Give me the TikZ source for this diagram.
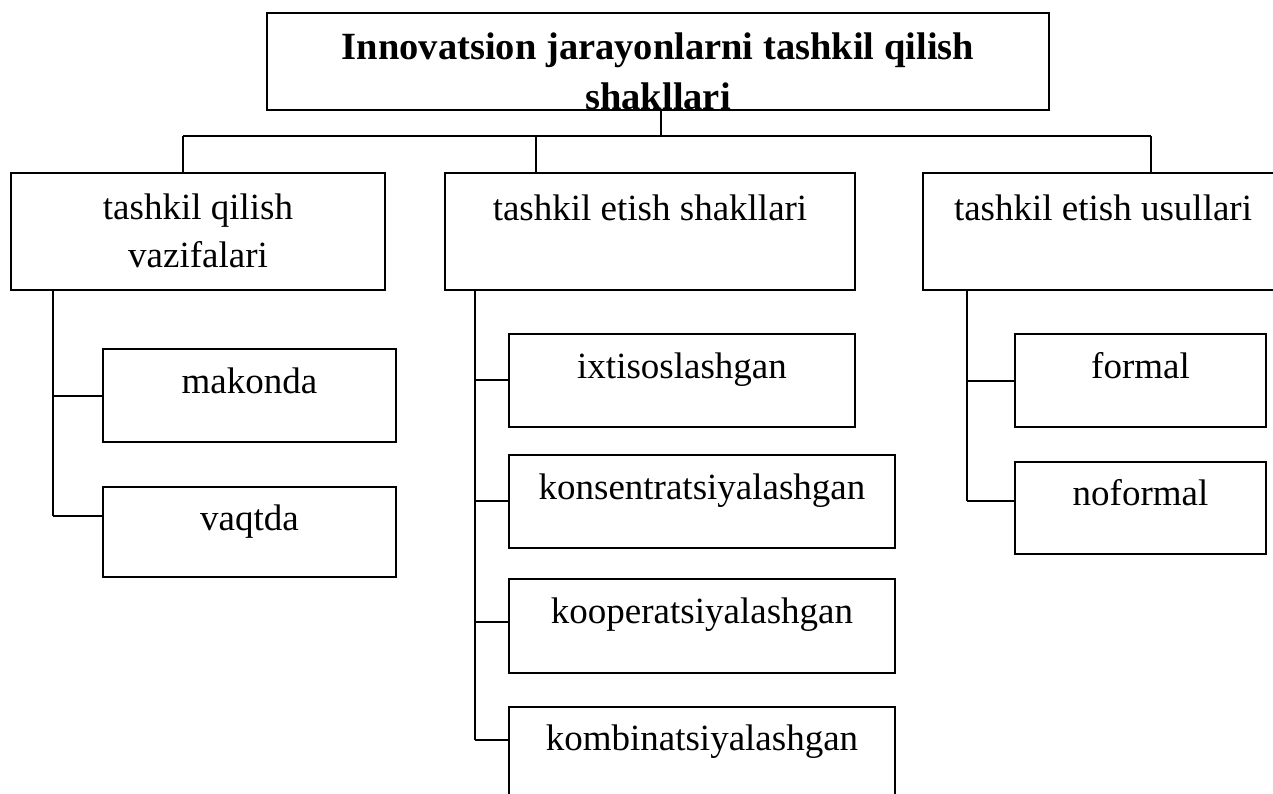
\documentclass[tikz,border=0pt]{standalone}
\usepackage{fontspec}
\setmainfont{Liberation Serif}

\begin{document}
\begin{tikzpicture}[x=1pt, y=-1pt, line width=1.3pt]

\tikzstyle{box} = [
	draw,
	anchor = north west,
	inner sep = 0pt,
	outer sep = 0pt
]
\tikzstyle{txt} = [
	anchor = base,
	inner sep = 0pt,
	font = \fontsize{37}{48}\selectfont
]
\tikzstyle{title} = [
	anchor = base,
	inner sep = 0pt,
	font = \fontsize{38.5}{45}\selectfont\bfseries
]
\tikzstyle{bus} = [line width=1.6pt]

\clip (0,0) rectangle (1273,793);

\node [box, minimum width=782pt, minimum height=97pt] (top) at (267,13) {};
\begin{scope}
	\clip (top.north west) rectangle (top.south east);
	\node [title] (top-a) at ([yshift=-46pt]top.north) {Innovatsion jarayonlarni tashkil qilish};
	\node [title] (top-b) at ([yshift=-96pt]top.north) {shakllari};
\end{scope}

\node [box, minimum width=374pt, minimum height=117pt] (tq) at (11,173) {};
\node [txt] (tq-a) at ([yshift=-46pt]tq.north) {tashkil qilish};
\node [txt] (tq-b) at ([yshift=-94pt]tq.north) {vazifalari};

\node [box, minimum width=410pt, minimum height=117pt] (te) at (445,173) {};
\node [txt] (te-a) at ([yshift=-47pt]te.north) {tashkil etish shakllari};

\node [box, minimum width=360pt, minimum height=117pt] (tu) at (923,173) {};
\node [txt] (tu-a) at ([yshift=-47pt]tu.north) {tashkil etish usullari};

\node [box, minimum width=293pt, minimum height=93pt] (mak) at (103,349) {};
\node [txt] (mak-a) at ([yshift=-44pt]mak.north) {makonda};
\node [box, minimum width=293pt, minimum height=90pt] (vaq) at (103,487) {};
\node [txt] (vaq-a) at ([yshift=-43pt]vaq.north) {vaqtda};

\node [box, minimum width=346pt, minimum height=93pt] (ixt) at (509,334) {};
\node [txt] (ixt-a) at ([yshift=-44pt]ixt.north) {ixtisoslashgan};
\node [box, minimum width=386pt, minimum height=93pt] (kon) at (509,455) {};
\node [txt] (kon-a) at ([yshift=-44pt]kon.north) {konsentratsiyalashgan};
\node [box, minimum width=386pt, minimum height=94pt] (koo) at (509,579) {};
\node [txt] (koo-a) at ([yshift=-44pt]koo.north) {kooperatsiyalashgan};
\node [box, minimum width=386pt, minimum height=120pt] (kom) at (509,707) {};
\node [txt] (kom-a) at ([yshift=-43pt]kom.north) {kombinatsiyalashgan};

\node [box, minimum width=251pt, minimum height=93pt] (frm) at (1015,334) {};
\node [txt] (frm-a) at ([yshift=-44pt]frm.north) {formal};
\node [box, minimum width=251pt, minimum height=92pt] (nof) at (1015,462) {};
\node [txt] (nof-a) at ([yshift=-43pt]nof.north) {noformal};

\coordinate (bus-l) at (183,136);
\coordinate (bus-m) at (536,136);
\coordinate (bus-r) at (1151,136);
\draw [bus] (bus-l) -- (bus-r);
\draw ([xshift=3pt]top.south) -- ([xshift=3pt]top.south |- bus-l);
\foreach \b/\n in {bus-l/tq, bus-m/te, bus-r/tu}
	\draw (\b) -- (\b |- \n.north);

\coordinate (mak-j) at (53,396);
\coordinate (vaq-j) at (53,516);
\coordinate (ixt-j) at (475,380);
\coordinate (kon-j) at (475,501);
\coordinate (koo-j) at (475,622);
\coordinate (kom-j) at (475,740);
\coordinate (frm-j) at (967,381);
\coordinate (nof-j) at (967,501);

\draw (tq.south -| vaq-j) -- (vaq-j);
\draw (te.south -| kom-j) -- (kom-j);
\draw (tu.south -| nof-j) -- (nof-j);
\foreach \n in {mak, vaq, ixt, kon, koo, kom, frm, nof}
	\draw (\n-j) -- (\n-j -| \n.west);

\end{tikzpicture}
\end{document}
